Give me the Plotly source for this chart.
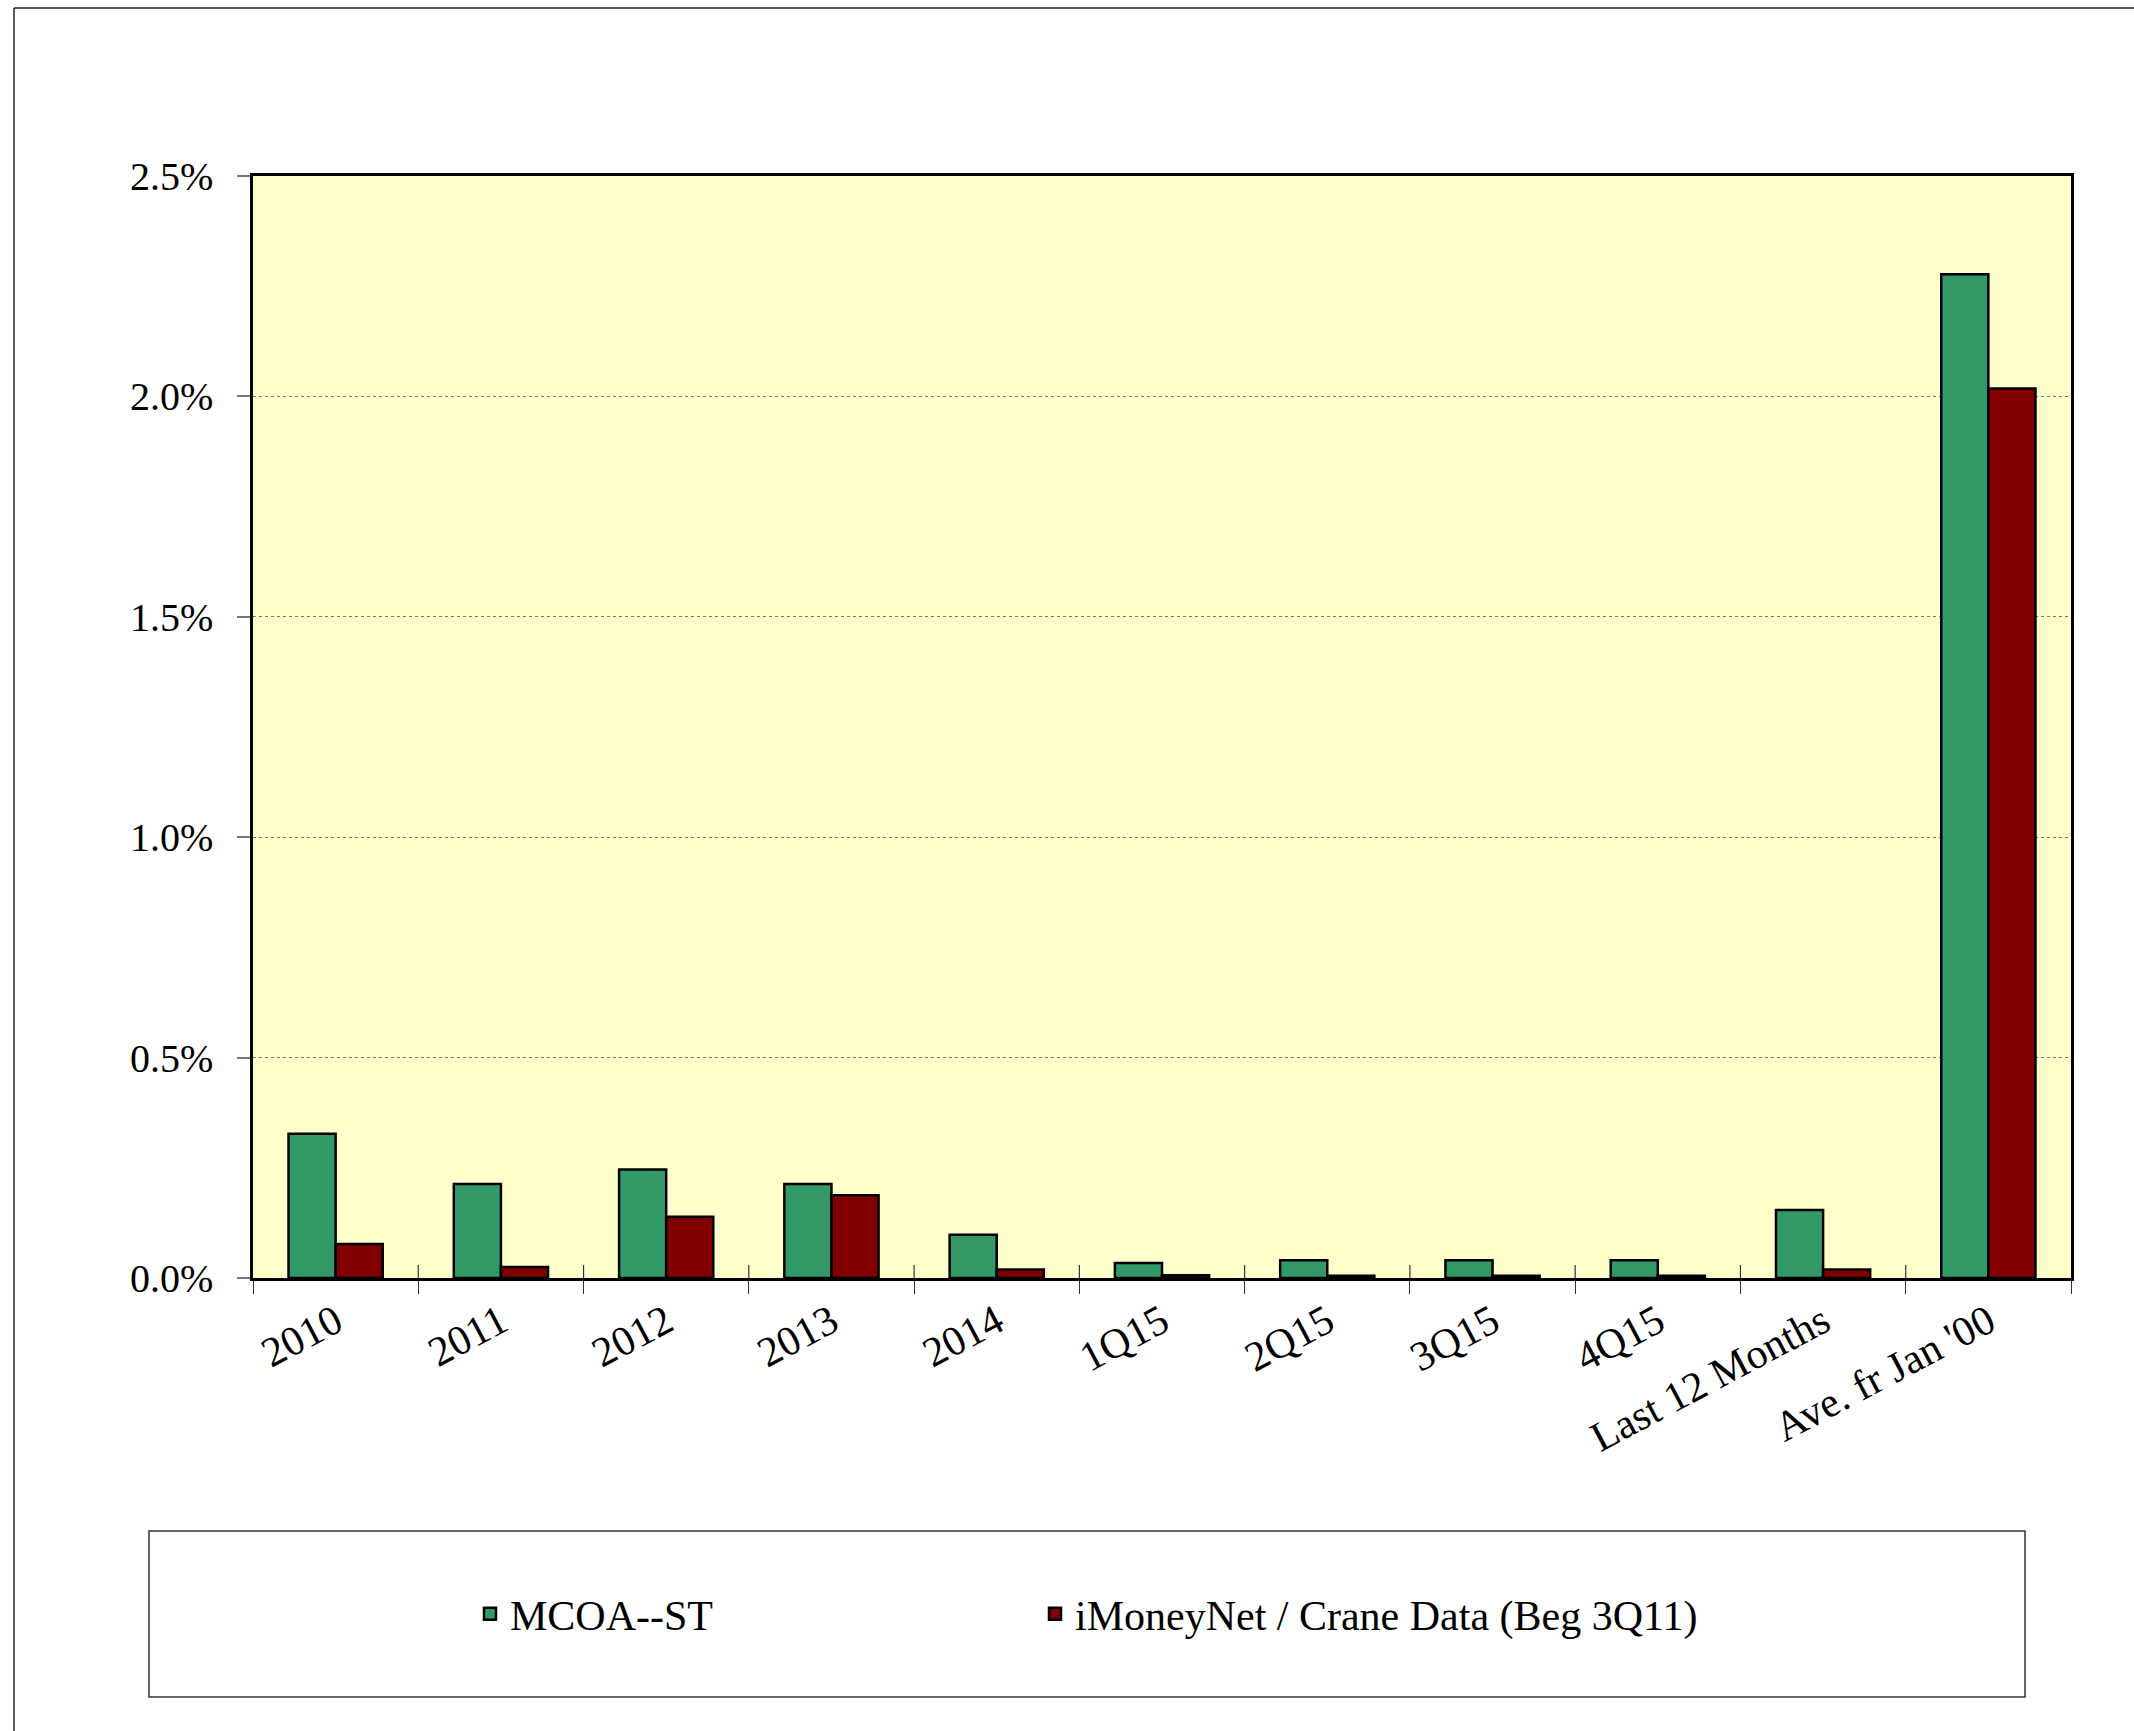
import plotly.graph_objects as go

categories = ["2010", "2011", "2012", "2013", "2014", "1Q15", "2Q15", "3Q15", "4Q15",
              "Last 12 Months", "Ave. fr Jan '00"]
mcoa_st = [0.327, 0.213, 0.246, 0.213, 0.098, 0.034, 0.040, 0.040, 0.040, 0.154, 2.277]
imoneynet = [0.077, 0.025, 0.139, 0.188, 0.019, 0.006, 0.005, 0.005, 0.005, 0.019, 2.018]
series_names = ["MCOA--ST", "iMoneyNet / Crane Data (Beg 3Q11)"]
y_ticks = [0.0, 0.5, 1.0, 1.5, 2.0, 2.5]
y_tick_labels = ["0.0%", "0.5%", "1.0%", "1.5%", "2.0%", "2.5%"]

W, H = 2134, 1731
L, R, T, B = 253, 2071, 176, 1278
FONT = "Liberation Serif, Times New Roman, serif"


def px_x(px):
    return (px - L) / (R - L)


def px_y(py):
    return (B - py) / (B - T)


fig = go.Figure()
fig.add_trace(go.Bar(x=categories, y=mcoa_st, name=series_names[0], legend="legend",
                     marker=dict(color="#339966", line=dict(color="black", width=2.5))))
fig.add_trace(go.Bar(x=categories, y=imoneynet, name=series_names[1], legend="legend2",
                     marker=dict(color="#800000", line=dict(color="black", width=2.5))))

shapes = []
# small ticks at category centres (below axis) and inner part of boundary ticks
for i in range(len(categories)):
    shapes.append(dict(type="line", xref="x", yref="y", x0=i, x1=i,
                       ysizemode="pixel", yanchor=0, y0=0, y1=-10,
                       line=dict(color="#333", width=1.2)))
for i in range(1, len(categories)):
    shapes.append(dict(type="line", xref="x", yref="y", x0=i - 0.5, x1=i - 0.5,
                       ysizemode="pixel", yanchor=0, y0=0, y1=13,
                       line=dict(color="#333", width=1.2)))
# legend box
shapes.append(dict(type="rect", xref="paper", yref="paper",
                   x0=px_x(149), x1=px_x(2025), y0=px_y(1697), y1=px_y(1531),
                   line=dict(color="#333", width=1.5), fillcolor="rgba(0,0,0,0)"))
# outer chart border (top and left visible)
shapes.append(dict(type="line", xref="paper", yref="paper",
                   x0=px_x(14), x1=px_x(2140), y0=px_y(8), y1=px_y(8),
                   line=dict(color="#222", width=1.5)))
shapes.append(dict(type="line", xref="paper", yref="paper",
                   x0=px_x(14), x1=px_x(14), y0=px_y(8), y1=px_y(1740),
                   line=dict(color="#222", width=1.5)))

legend_common = dict(orientation="h", xanchor="left", y=px_y(1614), yanchor="middle",
                     bgcolor="rgba(0,0,0,0)", borderwidth=0,
                     font=dict(family=FONT, size=42, color="black"))

fig.update_layout(
    width=W, height=H,
    margin=dict(l=L, r=W - R, t=T, b=H - B),
    paper_bgcolor="white",
    plot_bgcolor="#FFFFCC",
    barmode="group",
    bargap=0.43,
    bargroupgap=0,
    font=dict(family=FONT, size=40, color="black"),
    showlegend=True,
    legend=dict(x=px_x(470), **legend_common),
    legend2=dict(x=px_x(1035), **legend_common),
    shapes=shapes,
)

fig.update_xaxes(
    type="category",
    showline=True, linecolor="black", linewidth=2.5, mirror=True,
    ticks="outside", tickson="boundaries", ticklen=13, tickcolor="#333", tickwidth=1.2,
    tickangle=-28,
    tickfont=dict(family=FONT, size=42),
    showgrid=False,
)
fig.update_yaxes(
    range=[0, 2.5],
    tickvals=y_ticks, ticktext=y_tick_labels,
    showline=True, linecolor="black", linewidth=2.5, mirror=True,
    ticks="outside", ticklen=13, tickcolor="#777", tickwidth=1.5,
    ticklabelstandoff=16,
    showgrid=True, gridcolor="#777", griddash="dot", gridwidth=1.3,
    zeroline=False,
    tickfont=dict(family=FONT, size=40),
)

fig.write_html("out.html")
